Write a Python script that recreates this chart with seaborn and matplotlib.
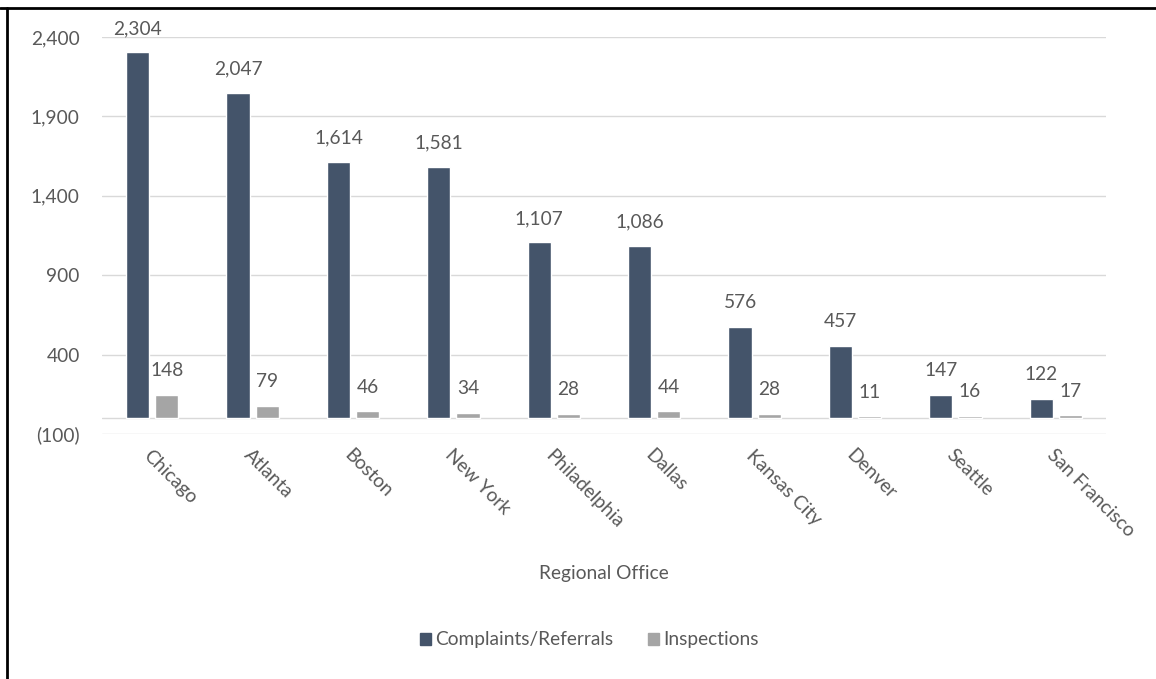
import matplotlib
matplotlib.use("Agg")
import matplotlib.pyplot as plt
import seaborn as sns
import pandas as pd
from matplotlib.lines import Line2D
from matplotlib.ticker import FuncFormatter

offices = ["Chicago", "Atlanta", "Boston", "New York", "Philadelphia", "Dallas",
           "Kansas City", "Denver", "Seattle", "San Francisco"]
complaints = [2304, 2047, 1614, 1581, 1107, 1086, 576, 457, 147, 122]
inspections = [148, 79, 46, 34, 28, 44, 28, 11, 16, 17]
series_names = ["Complaints/Referrals", "Inspections"]
y_ticks = [-100, 400, 900, 1400, 1900, 2400]

df = pd.DataFrame({
    "office": offices * 2,
    "value": complaints + inspections,
    "series": [series_names[0]] * len(offices) + [series_names[1]] * len(offices),
})

sns.set_style("white")
plt.rcParams["font.family"] = ["Lato", "DejaVu Sans"]
TXT = "#595959"
FS = 13.8

fig = plt.figure(figsize=(11.56, 6.79), dpi=100)
ax = fig.add_axes([102/1156, 1-434/679, (1106-102)/1156, (434-37)/679])

sns.barplot(data=df, x="office", y="value", hue="series", order=offices,
            hue_order=series_names, palette=["#44546A", "#A5A5A5"],
            width=0.58, gap=0.2, ax=ax, legend=False, saturation=1)

ax.set_ylim(-100, 2400)
ax.set_yticks(y_ticks)
ax.yaxis.set_major_formatter(FuncFormatter(
    lambda v, p: f"({abs(int(v)):,})" if v < 0 else f"{int(v):,}"))
ax.set_axisbelow(True)
ax.grid(axis="y", color="#D9D9D9", linewidth=1)
ax.axhline(0, color="#D9D9D9", linewidth=1, zorder=0.5)
for s in ax.spines.values():
    s.set_visible(False)
ax.tick_params(axis="both", length=0, labelsize=FS, labelcolor=TXT)
ax.tick_params(axis="y", pad=16)
ax.tick_params(axis="x", pad=9)
ax.set_xlim(-0.5, len(offices) - 0.5)
for lbl in ax.get_xticklabels():
    lbl.set_rotation(-45)
    lbl.set_ha("left")
    lbl.set_rotation_mode("anchor")
ax.set_xlabel("")
ax.set_ylabel("")

for cont in ax.containers:
    vals = [int(b.get_height()) for b in cont]
    ax.bar_label(cont, labels=[f"{v:,}" for v in vals], padding=11,
                 fontsize=FS, color=TXT)

fig.text(604/1156, 1-573/679, "Regional Office", ha="center", va="center",
         fontsize=FS, color=TXT)

handles = [plt.Rectangle((0, 0), 1, 1, color=c) for c in ["#44546A", "#A5A5A5"]]
fig.legend(handles, series_names, loc="center", bbox_to_anchor=(589/1156, 1-640/679),
           ncol=2, frameon=False, fontsize=FS, labelcolor=TXT,
           handlelength=0.6, handleheight=0.6, handletextpad=0.2, columnspacing=1.8)

fig.add_artist(Line2D([0, 1], [1-7.5/679, 1-7.5/679], transform=fig.transFigure,
                      color="black", linewidth=2))
fig.add_artist(Line2D([7/1156, 7/1156], [0, 1-7.5/679], transform=fig.transFigure,
                      color="black", linewidth=2))

fig.savefig("out.png", dpi=100)
